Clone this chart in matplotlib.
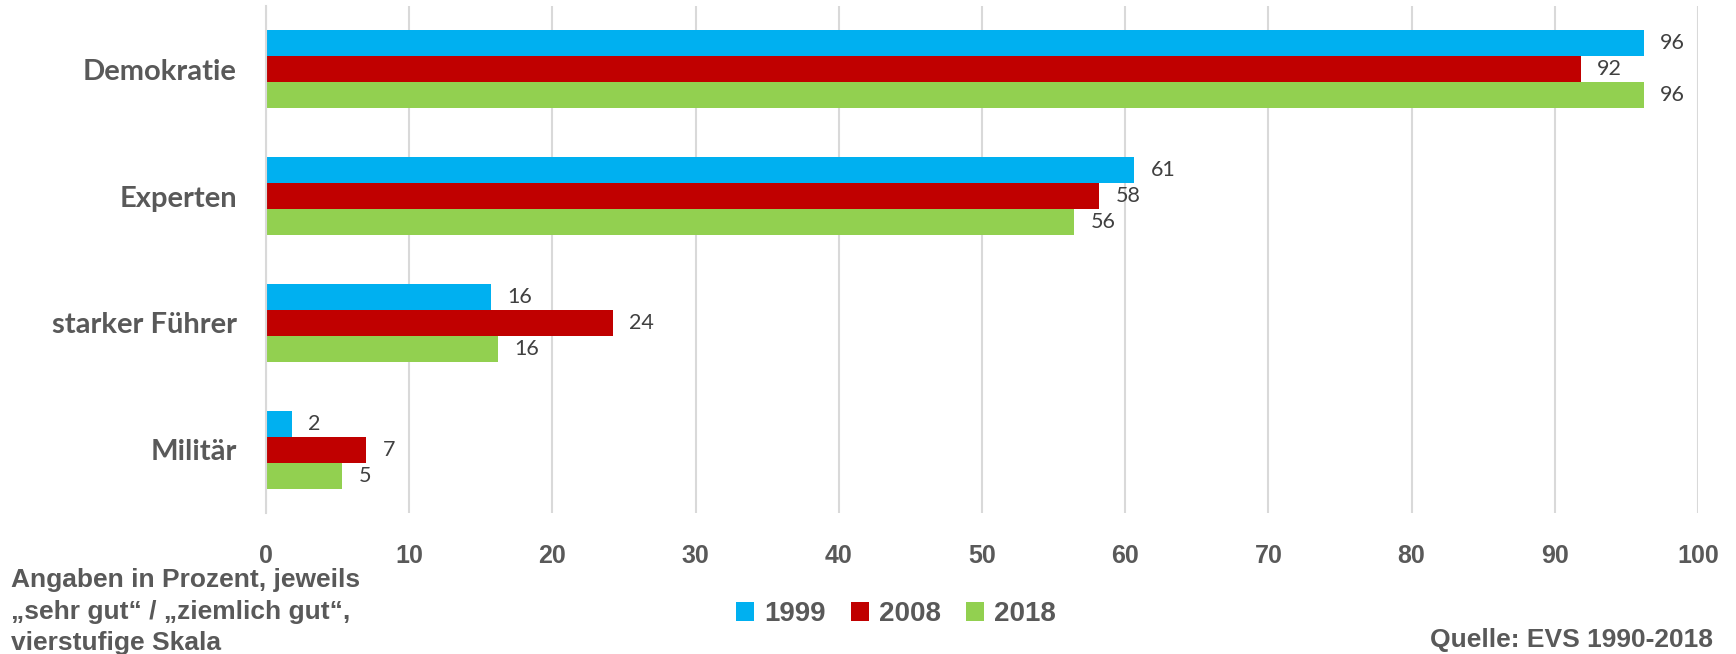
import matplotlib
matplotlib.use("Agg")
import matplotlib.pyplot as plt
from matplotlib.patches import Patch
import numpy as np

categories = ["Demokratie", "Experten", "starker Führer", "Militär"]
years = ["1999", "2008", "2018"]
values_1999 = [96.2, 60.6, 15.7, 1.8]
values_2008 = [91.8, 58.2, 24.2, 7.0]
values_2018 = [96.2, 56.4, 16.2, 5.3]
colors = ["#00B0F0", "#C00000", "#92D050"]
xticks = [0, 10, 20, 30, 40, 50, 60, 70, 80, 90, 100]

TXT = "#595959"
fig = plt.figure(figsize=(17.36, 6.54), dpi=100)
ax = fig.add_axes([266/1736, 1-513/654, (1698-266)/1736, (513-6)/654])

series = [values_1999, values_2008, values_2018]
y = np.arange(len(categories))
h = 0.205
for i, (vals, c) in enumerate(zip(series, colors)):
    pos = y + (i - 1) * h
    bars = ax.barh(pos, vals, height=h, color=c, zorder=3)
    for b, v in zip(bars, vals):
        ax.annotate(f"{v:.0f}", (b.get_width(), b.get_y() + b.get_height()/2),
                    xytext=(12, 0), textcoords="offset points",
                    va="center", ha="left", fontsize=15.5, family="Lato",
                    color="#404040")

ax.set_ylim(len(categories) - 0.5, -0.5)
ax.set_xlim(0, 100)
ax.set_xticks(xticks)
ax.set_xticklabels([str(t) for t in xticks], fontsize=18, fontweight="bold",
                   family="Liberation Sans", color=TXT)
ax.set_yticks(y)
ax.set_yticklabels(categories, fontsize=21, fontweight="bold", family="Lato", color=TXT)
ax.tick_params(axis="x", length=0, pad=22)
ax.tick_params(axis="y", length=0, pad=21)
ax.grid(axis="x", color="#D9D9D9", linewidth=1.5, zorder=0)
ax.grid(axis="y", visible=False)
for s in ["top", "right", "bottom"]:
    ax.spines[s].set_visible(False)
ax.spines["left"].set_color("#D9D9D9")
ax.spines["left"].set_linewidth(1.5)
ax.spines["left"].set_zorder(4)

handles = [Patch(facecolor=c, edgecolor="none") for c in colors]
leg = fig.legend(handles, years, loc="center", bbox_to_anchor=(0.516, 0.061),
                 ncol=3, frameon=False, handlelength=0.65, handleheight=0.65,
                 handletextpad=0.36, columnspacing=0.9,
                 prop={"family": "Liberation Sans", "weight": "bold", "size": 20})
for t in leg.get_texts():
    t.set_color(TXT)

note_lines = ["Angaben in Prozent, jeweils", "\u201esehr gut\u201c / \u201eziemlich gut\u201c,", "vierstufige Skala"]
for k, (line, base) in enumerate(zip(note_lines, [587, 619, 650])):
    fig.text(11/1736, 1-base/654, line, ha="left", va="baseline", fontsize=19,
             fontweight="bold", family="Liberation Sans", color=TXT)

fig.text(1713/1736, 1-647/654, "Quelle: EVS 1990-2018", ha="right", va="baseline",
         fontsize=19, fontweight="bold", family="Liberation Sans", color=TXT)

fig.savefig("out.png", dpi=100, facecolor="white")
